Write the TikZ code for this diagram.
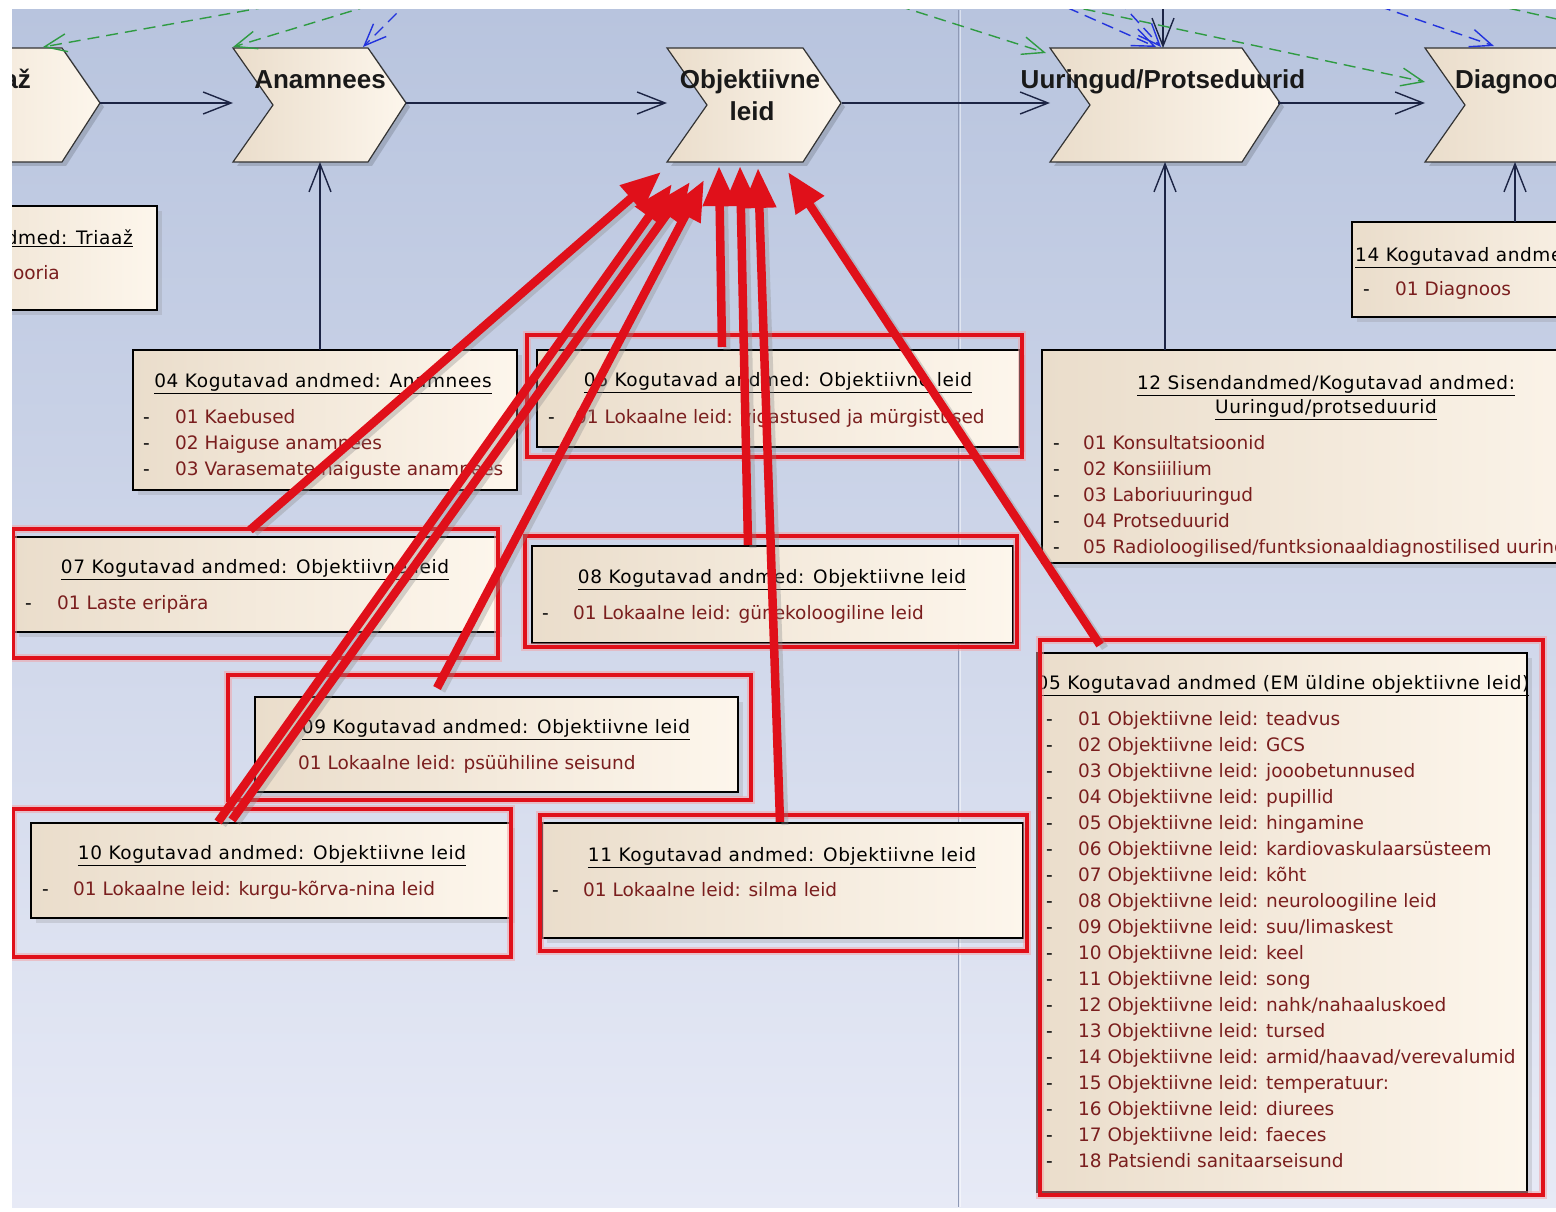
\documentclass[tikz,border=0pt]{standalone}
\usepackage{fontspec}
\newfontfamily\boxfont{DejaVu Sans}
\newfontfamily\ttlfont[LetterSpace=3.3]{DejaVu Sans}
\newfontfamily\chevfont{Liberation Sans}
\usetikzlibrary{arrows.meta,shadows}
\definecolor{bgtop}{HTML}{B8C4DE}
\definecolor{bgbot}{HTML}{E7EAF6}
\definecolor{creamL}{HTML}{EADDCB}
\definecolor{creamR}{HTML}{FDF6EC}
\definecolor{itemred}{HTML}{7A1E1E}
\definecolor{navy}{HTML}{1C2444}
\definecolor{annot}{HTML}{E0101A}
\definecolor{dgreen}{HTML}{2F9B42}
\definecolor{dblue}{HTML}{2233DD}
\definecolor{sepcol}{HTML}{8E99B5}
\begin{document}
\begin{tikzpicture}[x=1pt,y=-1pt,
  chev/.style={draw=black!80, line width=1.2pt, left color=creamL, right color=creamR},
  chevshadow/.style={fill=black, opacity=0.15},
  box/.style={draw=black, line width=1.2pt, left color=creamL, right color=creamR, inner sep=0pt, outer sep=0pt, anchor=north west,
    drop shadow={opacity=0.22, shadow xshift=5pt, shadow yshift=-5pt}},
  ttl/.style={font=\ttlfont\fontsize{18.5}{22}\selectfont, text=black, anchor=base, inner sep=0pt},
  ttlw/.style={font=\ttlfont\fontsize{18.5}{22}\selectfont, text=black, anchor=base west, inner sep=0pt},
  ttle/.style={font=\ttlfont\fontsize{18.5}{22}\selectfont, text=black, anchor=base east, inner sep=0pt},
  itm/.style={font=\boxfont\fontsize{18.5}{22}\selectfont, text=itemred, anchor=base west, inner sep=0pt},
  itme/.style={font=\boxfont\fontsize{18.5}{22}\selectfont, text=itemred, anchor=base east, inner sep=0pt},
  dsh/.style={font=\boxfont\fontsize{18.5}{22}\selectfont, text=black, anchor=base west, inner sep=0pt},
  chevtxt/.style={font=\chevfont\bfseries\fontsize{26}{32}\selectfont, anchor=base, inner sep=0pt, text=black!90},
  flow/.style={draw=navy, line width=1.4pt, -{Straight Barb[length=28pt,width=22pt,line width=1.4pt]}},
  gflow/.style={draw=dgreen, line width=1.4pt, dash pattern=on 12pt off 7pt, -{Straight Barb[length=22pt,width=18pt,line width=1.4pt]}},
  bflow/.style={draw=dblue, line width=1.4pt, dash pattern=on 12pt off 7pt, -{Straight Barb[length=22pt,width=18pt,line width=1.4pt]}},
  annotbox/.style={draw=annot, line width=3.5pt},
  annothalo/.style={draw=annot!40, line width=8pt, opacity=0.5},
  redarr/.style={draw=annot, line width=8.5pt, -{Triangle[length=40pt,width=32pt]}},
  redshadow/.style={draw=black!45, opacity=0.35, line width=7pt, shorten >=25pt}
]
\useasboundingbox (0,0) rectangle (1556,1212);
\fill[white] (0,0) rectangle (1556,1212);
\begin{scope}
\clip (12,10) rectangle (1556,1212);
\shade[top color=bgtop, bottom color=bgbot] (12,10) rectangle (1556,1207);
\draw[sepcol, line width=1pt] (958,10) -- (958,1207);
\draw[white, opacity=0.5, line width=1pt] (960,10) -- (960,1207);

% ---------- chevrons ----------
\foreach \L/\R in {-120/62, 233/368, 667/803, 1050/1242, 1425/1620}{
  \fill[chevshadow] (\L+4,52) -- (\R+4,52) -- (\R+42,107) -- (\R+4,166) -- (\L+4,166) -- (\L+44,109) -- cycle;
  \path[chev] (\L,48) -- (\R,48) -- (\R+38,103) -- (\R,162) -- (\L,162) -- (\L+40,105) -- cycle;
}
\node[chevtxt, anchor=base east] (tTri) at (31,89) {Triaaž};
\node[chevtxt] (tAna) at (320,89) {Anamnees};
\node[chevtxt] (tObj1) at (750,89) {Objektiivne};
\node[chevtxt] (tObj2) at (752,121) {leid};
\node[chevtxt] (tUur) at (1163,89) {Uuringud/Protseduurid};
\node[chevtxt, anchor=base west] (tDia) at (1455,89) {Diagnoos};

% chevron connection points
\coordinate (triTip) at (100,103);
\coordinate (anaIn) at (233,103);
\coordinate (anaTip) at (406,103);
\coordinate (objIn) at (667,103);
\coordinate (objTip) at (842,103);
\coordinate (uurIn) at (1050,103);
\coordinate (uurTip) at (1278,103);
\coordinate (diaIn) at (1425,103);
\coordinate (anaBot) at (320,162);
\coordinate (uurBot) at (1165,162);
\coordinate (diaBot) at (1515,162);
\coordinate (uurTop) at (1163,48);

\draw[flow] (triTip) -- (anaIn);
\draw[flow] (anaTip) -- (objIn);
\draw[flow] (objTip) -- (uurIn);
\draw[flow] (uurTip) -- (diaIn);

% ---------- dashed links at the top ----------
\coordinate (oG1) at (305,0);   \coordinate (triTop) at (43,47);
\coordinate (oG2) at (388,0);   \coordinate (anaTL) at (233,47);
\coordinate (oB1) at (410,0);   \coordinate (anaTop) at (363,47);
\coordinate (oG3) at (880,0);   \coordinate (uurTL) at (1046,53);
\coordinate (oB2) at (1050,0);  \coordinate (uurTopA) at (1156,47);
\coordinate (oB3) at (1118,0);  \coordinate (uurTopB) at (1161,47);
\coordinate (oN1) at (1163,0);
\coordinate (oG4) at (1065,5);  \coordinate (diaTL) at (1425,82);
\coordinate (oB4) at (1361,0);  \coordinate (diaTop) at (1494,46);
\coordinate (oG5) at (1490,4);  \coordinate (oG5e) at (1570,22);
\draw[gflow] (oG1) -- (triTop);
\draw[gflow] (oG2) -- (anaTL);
\draw[bflow] (oB1) -- (anaTop);
\draw[gflow] (oG3) -- (uurTL);
\draw[bflow] (oB2) -- (uurTopA);
\draw[bflow] (oB3) -- (uurTopB);
\draw[flow] (oN1) -- (uurTop);
\draw[gflow] (oG4) -- (diaTL);
\draw[bflow] (oB4) -- (diaTop);
\draw[draw=dgreen, line width=1.4pt, dash pattern=on 12pt off 7pt] (oG5) -- (oG5e);

% ---------- boxes ----------
\node[box, minimum width=257pt, minimum height=104pt] (bTri) at (-100,206) {};
\node[ttle] (tTriT) at (133,244.7) {\underline{andmed: Triaaž}};
\node[itme] (tTriI) at (60,279.7) {ooria};

\node[box, minimum width=384pt, minimum height=140pt] (b04) at (133,350) {};
\node[ttl] (t04) at (323,387.7) {\underline{04 Kogutavad andmed: Anamnees}};
\node[dsh] (d041) at (143,423.7) {-};
\node[itm] (i041) at (175,423.7) {01 Kaebused};
\node[dsh] (d042) at (143,449.7) {-};
\node[itm] (i042) at (175,449.7) {02 Haiguse anamnees};
\node[dsh] (d043) at (143,475.7) {-};
\node[itm] (i043) at (175,475.7) {03 Varasemate haiguste anamnees};

\node[box, minimum width=483pt, minimum height=97pt] (b06) at (537,350) {};
\node[ttl] (t06) at (778,386.7) {\underline{06 Kogutavad andmed: Objektiivne leid}};
\node[dsh] (d06) at (548,423.7) {-};
\node[itm] (i06) at (575,423.7) {01 Lokaalne leid: vigastused ja mürgistused};

\node[box, minimum width=600pt, minimum height=213pt] (b12) at (1042,350) {};
\node[ttl] (t12a) at (1326,389.7) {\underline{12 Sisendandmed/Kogutavad andmed:}};
\node[ttl] (t12b) at (1326,413.7) {\underline{Uuringud/protseduurid}};
\node[dsh] (d121) at (1053,449.7) {-};
\node[itm] (i121) at (1083,449.7) {01 Konsultatsioonid};
\node[dsh] (d122) at (1053,475.7) {-};
\node[itm] (i122) at (1083,475.7) {02 Konsiiilium};
\node[dsh] (d123) at (1053,501.7) {-};
\node[itm] (i123) at (1083,501.7) {03 Laboriuuringud};
\node[dsh] (d124) at (1053,527.7) {-};
\node[itm] (i124) at (1083,527.7) {04 Protseduurid};
\node[dsh] (d125) at (1053,553.2) {-};
\node[itm] (i125) at (1083,553.2) {05 Radioloogilised/funtksionaaldiagnostilised uuringud};

\node[box, minimum width=300pt, minimum height=95pt] (b14) at (1352,222) {};
\node[ttlw] (t14) at (1355,261.7) {\underline{14 Kogutavad andmed: Diagnoos}};
\node[dsh] (d14) at (1363,295.7) {-};
\node[itm] (i14) at (1395,295.7) {01 Diagnoos};

\node[box, minimum width=483pt, minimum height=95pt] (b07) at (14,537) {};
\node[ttl] (t07) at (255,573.7) {\underline{07 Kogutavad andmed: Objektiivne leid}};
\node[dsh] (d07) at (25,609.7) {-};
\node[itm] (i07) at (57,609.7) {01 Laste eripära};

\node[box, minimum width=481pt, minimum height=97pt] (b08) at (532,546) {};
\node[ttl] (t08) at (772,583.7) {\underline{08 Kogutavad andmed: Objektiivne leid}};
\node[dsh] (d08) at (542,619.7) {-};
\node[itm] (i08) at (573,619.7) {01 Lokaalne leid: günekoloogiline leid};

\node[box, minimum width=483pt, minimum height=95pt] (b09) at (255,697) {};
\node[ttl] (t09) at (496,733.7) {\underline{09 Kogutavad andmed: Objektiivne leid}};
\node[itm] (i09) at (298,769.7) {01 Lokaalne leid: psüühiline seisund};

\node[box, minimum width=479pt, minimum height=95pt] (b10) at (31,823) {};
\node[ttl] (t10) at (272,859.7) {\underline{10 Kogutavad andmed: Objektiivne leid}};
\node[dsh] (d10) at (42,895.7) {-};
\node[itm] (i10) at (73,895.7) {01 Lokaalne leid: kurgu-kõrva-nina leid};

\node[box, minimum width=481pt, minimum height=115pt] (b11) at (542,823) {};
\node[ttl] (t11) at (782,861.7) {\underline{11 Kogutavad andmed: Objektiivne leid}};
\node[dsh] (d11) at (552,896.7) {-};
\node[itm] (i11) at (583,896.7) {01 Lokaalne leid: silma leid};

\node[box, minimum width=490pt, minimum height=539pt] (b05) at (1037,653) {};
\node[ttl] (t05) at (1283,689.7) {\underline{05 Kogutavad andmed (EM üldine objektiivne leid)}};
\foreach \tt [count=\i] in {01 Objektiivne leid: teadvus, 02 Objektiivne leid: GCS, 03 Objektiivne leid: jooobetunnused, 04 Objektiivne leid: pupillid, 05 Objektiivne leid: hingamine, 06 Objektiivne leid: kardiovaskulaarsüsteem, 07 Objektiivne leid: kõht, 08 Objektiivne leid: neuroloogiline leid, 09 Objektiivne leid: suu/limaskest, 10 Objektiivne leid: keel, 11 Objektiivne leid: song, 12 Objektiivne leid: nahk/nahaaluskoed, 13 Objektiivne leid: tursed, 14 Objektiivne leid: armid/haavad/verevalumid, 15 Objektiivne leid: temperatuur:, 16 Objektiivne leid: diurees, 17 Objektiivne leid: faeces, 18 Patsiendi sanitaarseisund}{
  \node[dsh] (d05\i) at (1046,{725.7+26*(\i-1)}) {-};
  \node[itm] (i05\i) at (1078,{725.7+26*(\i-1)}) {\tt};
}

% vertical flows from boxes
\coordinate (b04top) at (320,350);
\coordinate (b12top) at (1165,350);
\coordinate (b14top) at (1515,222);
\draw[flow] (b04top) -- (anaBot);
\draw[flow] (b12top) -- (uurBot);
\draw[flow] (b14top) -- (diaBot);

% ---------- red annotation rectangles ----------
\foreach \xa/\ya/\xb/\yb in {527/335/1022/457, 13/529/498/658, 525/536/1017/647, 228/675/751/800, 13/809/511/957, 540/815/1027/951, 1040/640/1543/1195}{
  \draw[annothalo] (\xa,\ya) rectangle (\xb,\yb);
  \draw[annotbox] (\xa,\ya) rectangle (\xb,\yb);
}

% ---------- red annotation arrows ----------
\coordinate (s07) at (250,530);  \coordinate (e07) at (661,172);
\coordinate (s10a) at (218,822); \coordinate (e10a) at (672,184);
\coordinate (s10b) at (232,820); \coordinate (e10b) at (690,182);
\coordinate (s09) at (437,688);  \coordinate (e09) at (704,180);
\coordinate (s06) at (722,347);  \coordinate (e06) at (719,166);
\coordinate (s08) at (748,545);  \coordinate (e08) at (740,166);
\coordinate (s11) at (780,822);  \coordinate (e11) at (758,168);
\coordinate (s05) at (1100,645); \coordinate (e05) at (788,172);
\foreach \a/\b in {s07/e07, s10a/e10a, s10b/e10b, s09/e09, s06/e06, s08/e08, s11/e11, s05/e05}{
  \draw[redshadow] ([shift={(5,3)}]\a) -- ([shift={(5,3)}]\b);
}
\foreach \a/\b in {s07/e07, s10a/e10a, s10b/e10b, s09/e09, s06/e06, s08/e08, s11/e11, s05/e05}{
  \draw[redarr] (\a) -- (\b);
}
\end{scope}
\end{tikzpicture}
\end{document}
